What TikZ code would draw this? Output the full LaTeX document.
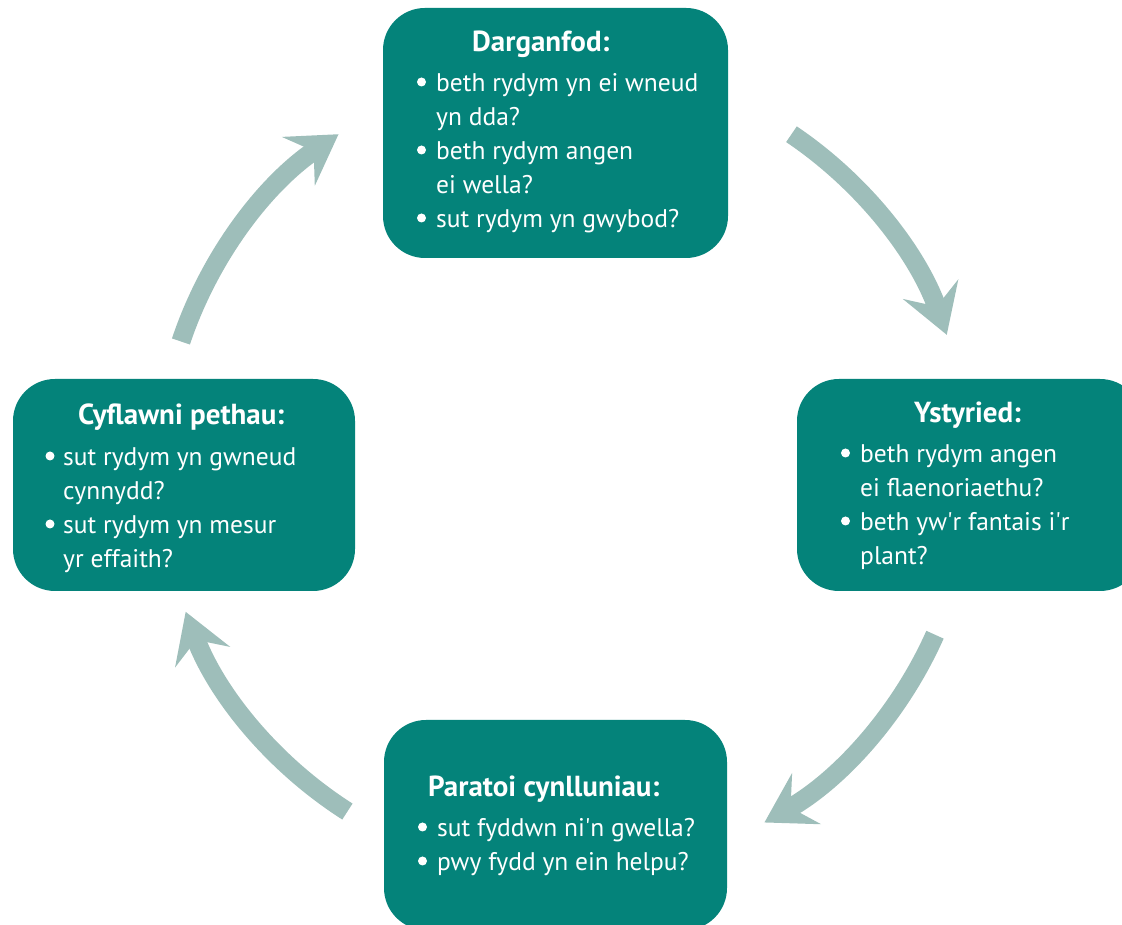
\documentclass[tikz,border=0pt]{standalone}
\usepackage{fontspec}
\setmainfont{PT Sans}
\usetikzlibrary{arrows.meta,calc}
\definecolor{boxteal}{RGB}{4,131,122}
\definecolor{arrowgrey}{RGB}{158,190,186}
\tikzset{
  stagebox/.style={draw=none, fill=boxteal, rounded corners=42pt, inner sep=0pt},
  ttl/.style={anchor=base west, inner sep=0pt, text=white, font=\fontsize{29}{34}\selectfont\bfseries},
  ln/.style={anchor=base west, inner sep=0pt, text=white, font=\fontsize{25.5}{34}\selectfont},
  dot/.style={fill=white},
  flow/.style={draw=arrowgrey, line width=19pt, -{Stealth[length=48pt,width=58pt,inset=18pt]}},
}
\newcommand{\apos}{\textquotesingle}
\begin{document}
\begin{tikzpicture}[x=1pt,y=1pt]
\useasboundingbox (0,0) rectangle (1122,925);
\clip (0,0) rectangle (1122,925);
% boxes
\node[stagebox, minimum width=345pt, minimum height=250pt] (top) at (555.5,792) {};
\node[stagebox, minimum width=345pt, minimum height=212pt] (right) at (969.5,440) {};
\node[stagebox, minimum width=342pt, minimum height=212pt] (left) at (184,440) {};
\node[stagebox, minimum width=343pt, minimum height=210pt] (bottom) at (555.5,100) {};
% top text
\node[ttl] (t0) at (472,873) {Darganfod:};
\node[ln] (t1) at (436,833) {beth rydym yn ei wneud};
\node[ln] (t2) at (436,799) {yn dda?};
\node[ln] (t3) at (436,765) {beth rydym angen};
\node[ln] (t4) at (436,731) {ei wella?};
\node[ln] (t5) at (436,697) {sut rydym yn gwybod?};
\fill[dot] (421.5,843) circle (4.5pt);
\fill[dot] (421.5,775) circle (4.5pt);
\fill[dot] (421.5,707) circle (4.5pt);
% right text
\node[ttl] (r0) at (914,502) {Ystyried:};
\node[ln] (r1) at (860,462) {beth rydym angen};
\node[ln] (r2) at (860,428) {ei flaenoriaethu?};
\node[ln] (r3) at (860,394) {beth yw\apos r fantais i\apos r};
\node[ln] (r4) at (860,360) {plant?};
\fill[dot] (845.5,472) circle (4.5pt);
\fill[dot] (845.5,404) circle (4.5pt);
% left text
\node[ttl] (l0) at (78,500) {Cyflawni pethau:};
\node[ln] (l1) at (63,459) {sut rydym yn gwneud};
\node[ln] (l2) at (63,425) {cynnydd?};
\node[ln] (l3) at (63,391) {sut rydym yn mesur};
\node[ln] (l4) at (63,357) {yr effaith?};
\fill[dot] (50,469) circle (4.5pt);
\fill[dot] (50,401) circle (4.5pt);
% bottom text
\node[ttl] (b0) at (428,128) {Paratoi cynlluniau:};
\node[ln] (b1) at (437,88) {sut fyddwn ni\apos n gwella?};
\node[ln] (b2) at (437,54) {pwy fydd yn ein helpu?};
\fill[dot] (422.5,98) circle (4.5pt);
\fill[dot] (422.5,64) circle (4.5pt);
% arrows
\coordinate (C) at (565,455);
\coordinate (a1) at ($(C)+(56:405)$);
\coordinate (a2) at ($(C)+(-24:405)$);
\coordinate (a3) at ($(C)+(237.5:405)$);
\coordinate (a4) at ($(C)+(161.5:405)$);
\draw[flow] (a1) arc[start angle=56, end angle=19.5, radius=405];
\draw[flow] (a2) arc[start angle=-24, end angle=-60.5, radius=405];
\draw[flow] (a3) arc[start angle=237.5, end angle=200.5, radius=405];
\draw[flow] (a4) arc[start angle=161.5, end angle=124, radius=405];
\end{tikzpicture}
\end{document}
